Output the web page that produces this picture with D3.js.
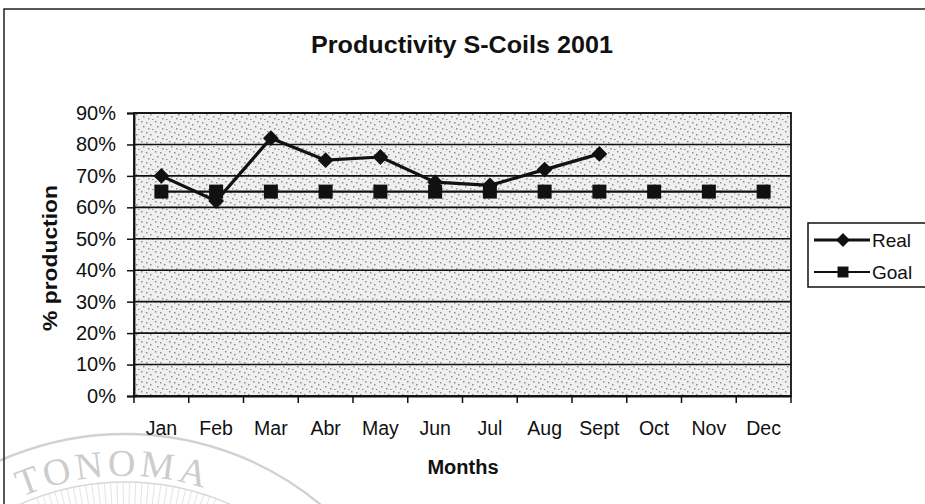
<!DOCTYPE html>
<html>
<head>
<meta charset="utf-8">
<script src="https://cdn.jsdelivr.net/npm/d3@7"></script>
<style>
  html, body { margin: 0; padding: 0; background: #fff; }
  svg { display: block; }
</style>
</head>
<body>
<svg id="chart" width="925" height="504"></svg>
<script>
// Monthly productivity, S-Coils line, 2001
const months = ["Jan", "Feb", "Mar", "Abr", "May", "Jun", "Jul", "Aug", "Sept", "Oct", "Nov", "Dec"];
const realValues = [0.70, 0.62, 0.82, 0.75, 0.76, 0.68, 0.67, 0.72, 0.77, null, null, null];
const goalValues = [0.65, 0.65, 0.65, 0.65, 0.65, 0.65, 0.65, 0.65, 0.65, 0.65, 0.65, 0.65];
const yTicks = [0, 0.1, 0.2, 0.3, 0.4, 0.5, 0.6, 0.7, 0.8, 0.9];
const seriesNames = ["Real", "Goal"];

const svg = d3.select("#chart");
const font = "'Liberation Sans', Arial, sans-serif";
const ink = "#111";

const plot = { left: 134, right: 791, top: 113, bottom: 396 };

const x = d3.scaleBand().domain(months).range([plot.left, plot.right]);
const y = d3.scaleLinear().domain([0, 0.9]).range([plot.bottom, plot.top]);

const defs = svg.append("defs");

// faint seal in the lower-left corner (drawn first so it sits behind the text)
const seal = svg.append("g").attr("opacity", 0.33);
const sc = { x: 125, y: 740 };
seal.append("circle").attr("cx", sc.x).attr("cy", sc.y).attr("r", 306)
  .attr("fill", "none").attr("stroke", "#777").attr("stroke-width", 2.4);
seal.append("circle").attr("cx", sc.x).attr("cy", sc.y).attr("r", 258)
  .attr("fill", "none").attr("stroke", "#888").attr("stroke-width", 1.4);
seal.append("g").selectAll("line")
  .data(d3.range(-20, 21, 1.4))
  .join("line")
  .attr("x1", a => sc.x + 258 * Math.sin(a * Math.PI / 180))
  .attr("y1", a => sc.y - 258 * Math.cos(a * Math.PI / 180))
  .attr("x2", a => sc.x + 234 * Math.sin(a * Math.PI / 180))
  .attr("y2", a => sc.y - 234 * Math.cos(a * Math.PI / 180))
  .attr("stroke", "#999").attr("stroke-width", 0.8);
defs.append("path").attr("id", "sealArc")
  .attr("d", `M${sc.x - 264},${sc.y} A264,264 0 0 1 ${sc.x + 264},${sc.y}`);
seal.append("text")
  .attr("font-family", "'Liberation Serif', serif").attr("font-size", 38).attr("fill", "#666")
  .attr("letter-spacing", 4)
  .append("textPath").attr("href", "#sealArc").attr("startOffset", 308)
  .text("TONOMA");

// outer chart frame
svg.append("path")
  .attr("d", "M4,504 L4,9 L925,9")
  .attr("fill", "none").attr("stroke", "#222").attr("stroke-width", 1.5);

// plot area with a speckled grey fill
const pat = defs.append("pattern")
  .attr("id", "speckle").attr("patternUnits", "userSpaceOnUse")
  .attr("width", 14).attr("height", 10);
pat.append("rect").attr("width", 14).attr("height", 10).attr("fill", "#efefef");
[[1, 1], [6, 2], [10, 4], [3, 6], [8, 8], [12, 9]].forEach(([px, py]) => {
  pat.append("rect").attr("x", px).attr("y", py).attr("width", 1.5).attr("height", 1.5).attr("fill", "#8f8f8f");
});

svg.append("rect")
  .attr("x", plot.left).attr("y", plot.top)
  .attr("width", plot.right - plot.left).attr("height", plot.bottom - plot.top)
  .attr("fill", "url(#speckle)");

// horizontal gridlines
svg.append("g")
  .selectAll("line")
  .data(yTicks)
  .join("line")
  .attr("x1", plot.left).attr("x2", plot.right)
  .attr("y1", d => y(d)).attr("y2", d => y(d))
  .attr("stroke", ink).attr("stroke-width", 1.6);

// plot border
svg.append("rect")
  .attr("x", plot.left).attr("y", plot.top)
  .attr("width", plot.right - plot.left).attr("height", plot.bottom - plot.top)
  .attr("fill", "none").attr("stroke", ink).attr("stroke-width", 1.8);

// y axis
const yAxis = svg.append("g")
  .attr("transform", `translate(${plot.left},0)`)
  .call(d3.axisLeft(y).tickValues(yTicks).tickFormat(d3.format(".0%")).tickSize(7).tickPadding(11));
yAxis.select(".domain").attr("stroke", ink).attr("stroke-width", 1.8);
yAxis.selectAll(".tick line").attr("stroke", ink).attr("stroke-width", 1.5);
yAxis.selectAll("text").attr("font-family", font).attr("font-size", 20).attr("fill", ink);

// x axis: tick marks fall between categories
const xAxis = svg.append("g")
  .attr("transform", `translate(0,${plot.bottom})`)
  .call(d3.axisBottom(x).tickSize(0));
xAxis.select(".domain").attr("stroke", ink).attr("stroke-width", 1.8);
xAxis.selectAll("text")
  .attr("y", 39).attr("dy", 0)
  .attr("font-family", font).attr("font-size", 19.5).attr("fill", ink);
xAxis.selectAll(".sep")
  .data(d3.range(months.length + 1))
  .join("line")
  .attr("class", "sep")
  .attr("x1", i => plot.left + i * x.step()).attr("x2", i => plot.left + i * x.step())
  .attr("y1", 0).attr("y2", 7)
  .attr("stroke", ink).attr("stroke-width", 1.5);

const cx = m => x(m) + x.bandwidth() / 2;

// Goal series
const goalPts = months.map((m, i) => ({ m, v: goalValues[i] })).filter(d => d.v != null);
svg.append("path")
  .datum(goalPts)
  .attr("d", d3.line().x(d => cx(d.m)).y(d => y(d.v)))
  .attr("fill", "none").attr("stroke", ink).attr("stroke-width", 2.4);
svg.append("g").selectAll("rect")
  .data(goalPts)
  .join("rect")
  .attr("x", d => cx(d.m) - 7).attr("y", d => y(d.v) - 7)
  .attr("width", 14).attr("height", 14).attr("fill", ink);

// Real series
const realPts = months.map((m, i) => ({ m, v: realValues[i] })).filter(d => d.v != null);
svg.append("path")
  .datum(realPts)
  .attr("d", d3.line().x(d => cx(d.m)).y(d => y(d.v)))
  .attr("fill", "none").attr("stroke", ink).attr("stroke-width", 3.2);
svg.append("g").selectAll("path")
  .data(realPts)
  .join("path")
  .attr("transform", d => `translate(${cx(d.m)},${y(d.v)}) rotate(45)`)
  .attr("d", d3.symbol().type(d3.symbolSquare).size(125))
  .attr("fill", ink);

// title
svg.append("text")
  .attr("x", 462).attr("y", 53)
  .attr("text-anchor", "middle")
  .attr("font-family", font).attr("font-weight", "bold").attr("font-size", 24)
  .attr("textLength", 302).attr("lengthAdjust", "spacingAndGlyphs")
  .attr("fill", ink)
  .text("Productivity S-Coils 2001");

// axis titles
svg.append("text")
  .attr("transform", "translate(57,258) rotate(-90)")
  .attr("text-anchor", "middle")
  .attr("font-family", font).attr("font-weight", "bold").attr("font-size", 20)
  .attr("textLength", 146).attr("lengthAdjust", "spacingAndGlyphs")
  .attr("fill", ink)
  .text("% production");
svg.append("text")
  .attr("x", 463).attr("y", 474)
  .attr("text-anchor", "middle")
  .attr("font-family", font).attr("font-weight", "bold").attr("font-size", 20)
  .attr("fill", ink)
  .text("Months");

// legend
const lg = svg.append("g").attr("transform", "translate(808,223)");
lg.append("rect").attr("width", 130).attr("height", 64)
  .attr("fill", "#fff").attr("stroke", ink).attr("stroke-width", 1.5);
const items = lg.selectAll("g.item").data(seriesNames).join("g")
  .attr("class", "item")
  .attr("transform", (d, i) => `translate(0,${17 + i * 32})`);
items.append("line")
  .attr("x1", 6).attr("x2", 62).attr("y1", 0).attr("y2", 0)
  .attr("stroke", ink).attr("stroke-width", (d, i) => i === 0 ? 2.8 : 2);
items.append("path")
  .attr("transform", (d, i) => `translate(35,0) rotate(${i === 0 ? 45 : 0})`)
  .attr("d", (d, i) => d3.symbol().type(d3.symbolSquare).size(i === 0 ? 95 : 120)())
  .attr("fill", ink);
items.append("text")
  .attr("x", 64).attr("y", 7)
  .attr("font-family", font).attr("font-size", 19).attr("fill", ink)
  .text(d => d);
</script>
</body>
</html>
